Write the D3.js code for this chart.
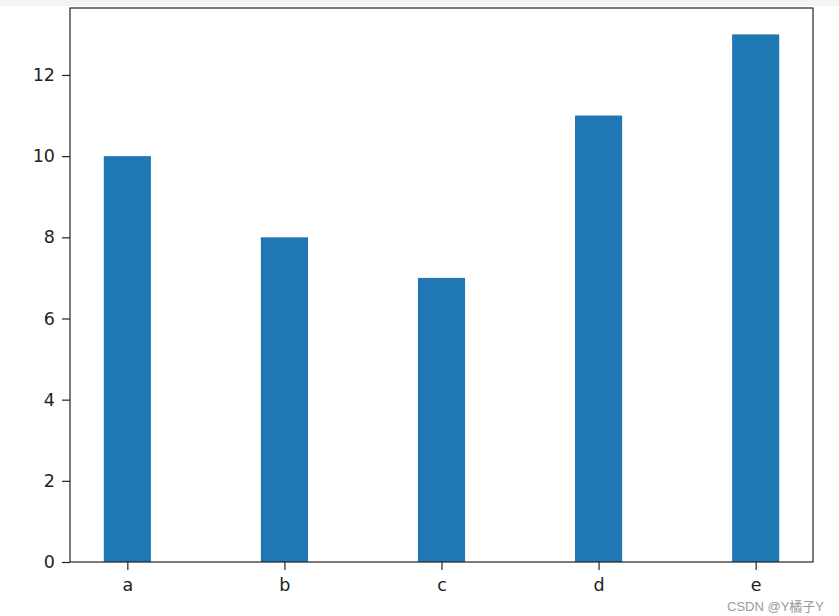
<!DOCTYPE html>
<html>
<head>
<meta charset="utf-8">
<script src="https://cdn.jsdelivr.net/npm/d3@7"></script>
<style>
  body { margin: 0; background: #fff; }
  svg { display: block; }
</style>
</head>
<body>
<script>
const categories = ["a", "b", "c", "d", "e"];
const values = [10, 8, 7, 11, 13];
const yTicks = [0, 2, 4, 6, 8, 10, 12];

const width = 839, height = 616;
const margin = { left: 70, right: 26, top: 8, bottom: 54 };
const barWidth = 0.3;

const svg = d3.select("body").append("svg")
  .attr("width", width)
  .attr("height", height);

// faint grey strip at the very top (screenshot edge)
svg.append("rect")
  .attr("x", 0).attr("y", 0)
  .attr("width", width).attr("height", 6)
  .attr("fill", "#f4f4f4");

// matplotlib-like numeric x scale with 5% margins
const xPad = (categories.length - 1 + barWidth) * 0.05;
let x = d3.scaleLinear()
  .domain([-barWidth / 2 - xPad, categories.length - 1 + barWidth / 2 + xPad])
  .range([margin.left, width - margin.right]);

let y = d3.scaleLinear()
  .domain([0, d3.max(values) * 1.05])
  .range([height - margin.bottom, margin.top]);

svg.append("g")
  .selectAll("rect")
  .data(values)
  .enter().append("rect")
  .attr("x", (d, i) => x(i - barWidth / 2))
  .attr("width", (d, i) => x(i + barWidth / 2) - x(i - barWidth / 2))
  .attr("y", d => y(d))
  .attr("height", d => y(0) - y(d))
  .attr("fill", "#1f77b4");

let xAxis = svg.append("g")
  .attr("transform", `translate(0,${height - margin.bottom})`)
  .call(d3.axisBottom(x)
    .tickValues(d3.range(categories.length))
    .tickFormat(i => categories[i])
    .tickSize(8)
    .tickPadding(9));

let yAxis = svg.append("g")
  .attr("transform", `translate(${margin.left},0)`)
  .call(d3.axisLeft(y)
    .tickValues(yTicks)
    .tickSize(8)
    .tickPadding(7));

[xAxis, yAxis].forEach(ax => {
  ax.select(".domain").remove();
  ax.selectAll("line").attr("stroke", "#222").attr("stroke-width", 1.2);
  ax.selectAll("text")
    .attr("fill", "#222")
    .attr("font-family", "DejaVu Sans, sans-serif")
    .attr("font-size", 17.5);
});

// axes frame
svg.append("rect")
  .attr("x", margin.left)
  .attr("y", margin.top)
  .attr("width", width - margin.left - margin.right)
  .attr("height", height - margin.top - margin.bottom)
  .attr("fill", "none")
  .attr("stroke", "#222")
  .attr("stroke-width", 1.2);

// watermark
svg.append("text")
  .attr("x", 824)
  .attr("y", 611)
  .attr("text-anchor", "end")
  .attr("font-family", "Liberation Sans, Noto Sans CJK SC, sans-serif")
  .attr("font-size", 13)
  .attr("fill", "#999")
  .text("CSDN @Y橘子Y");
</script>
</body>
</html>
